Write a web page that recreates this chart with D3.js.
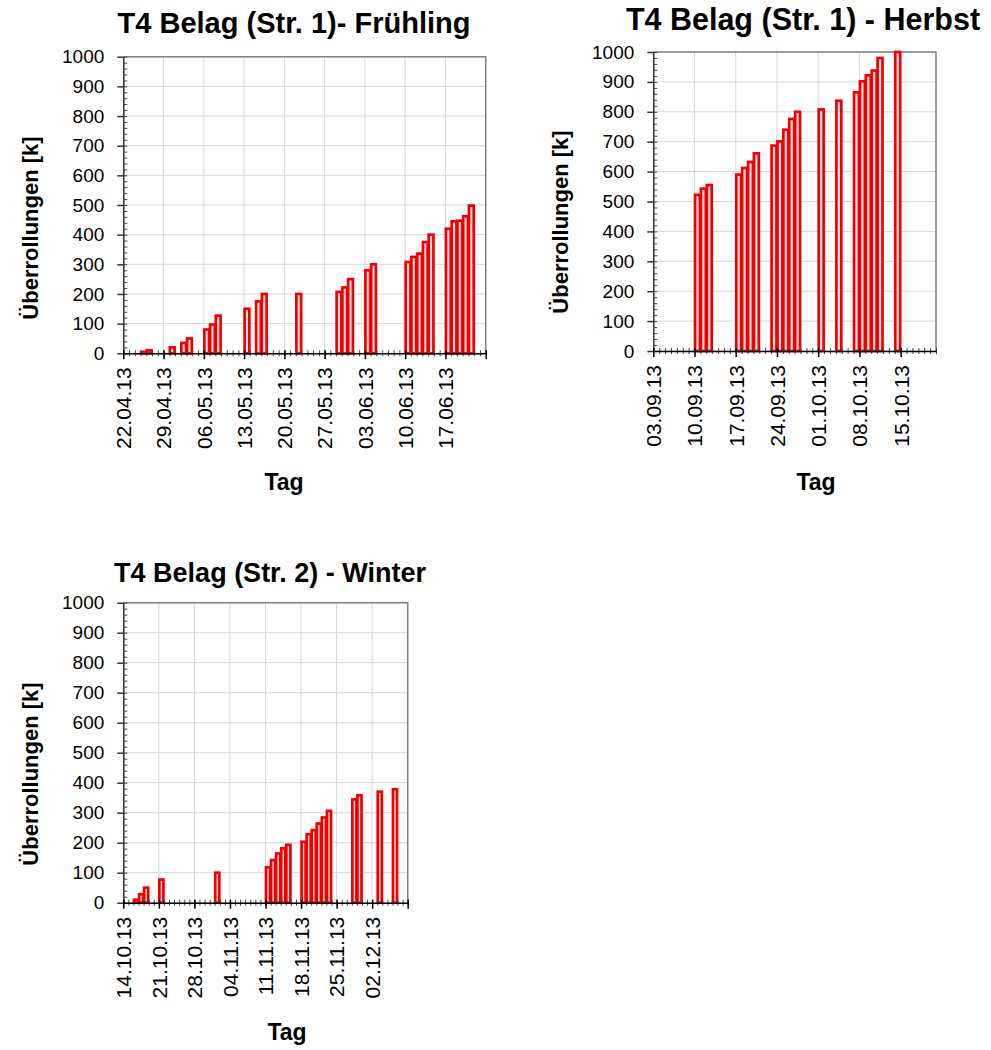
<!DOCTYPE html>
<html>
<head>
<meta charset="utf-8">
<script src="https://cdn.jsdelivr.net/npm/d3@7"></script>
<style>
body { margin: 0; background: #fff; }
svg { display: block; font-family: "Liberation Sans", Arial, sans-serif; }
</style>
</head>
<body>
<div id="chart"></div>
<script>
// data (k = thousands of passes)
var springDays = ["25.04.13","26.04.13","30.04.13","02.05.13","03.05.13","06.05.13","07.05.13","08.05.13",
    "13.05.13","15.05.13","16.05.13","22.05.13","29.05.13","30.05.13","31.05.13","03.06.13","04.06.13",
    "10.06.13","11.06.13","12.06.13","13.06.13","14.06.13","17.06.13","18.06.13","19.06.13","20.06.13","21.06.13"];
var springValues = [5, 10, 20, 35, 50, 80, 97, 127,
    150, 175, 200, 200, 207, 222, 250, 280, 300,
    308, 325, 336, 375, 400, 420, 445, 447, 462, 498];

var autumnDays = ["10.09.13","11.09.13","12.09.13","17.09.13","18.09.13","19.09.13","20.09.13",
    "23.09.13","24.09.13","25.09.13","26.09.13","27.09.13","01.10.13","04.10.13",
    "07.10.13","08.10.13","09.10.13","10.10.13","11.10.13","14.10.13"];
var autumnValues = [522, 543, 555, 590, 612, 632, 661,
    687, 701, 740, 776, 800, 808, 837,
    865, 902, 922, 938, 980, 1000];

var winterDays = ["16.10.13","17.10.13","18.10.13","21.10.13","01.11.13",
    "11.11.13","12.11.13","13.11.13","14.11.13","15.11.13",
    "18.11.13","19.11.13","20.11.13","21.11.13","22.11.13","23.11.13",
    "28.11.13","29.11.13","03.12.13","06.12.13"];
var winterValues = [10, 28, 50, 77, 100,
    118, 142, 164, 181, 193,
    203, 228, 242, 264, 284, 306,
    344, 358, 370, 378];

var axisRanges = [["22.04.13","24.06.13"], ["03.09.13","21.10.13"], ["14.10.13","09.12.13"]];
var titles = ["T4 Belag (Str. 1)- Frühling", "T4 Belag (Str. 1) - Herbst", "T4 Belag (Str. 2) - Winter"];
var yTickValues = d3.range(0, 1001, 100);
var yMinorValues = d3.range(0, 1001, 20);
var yTitle = "Überrollungen [k]";
var xTitle = "Tag";

var parseDay = d3.utcParse("%d.%m.%y");
var fmtDay = d3.utcFormat("%d.%m.%y");

var svg = d3.select("#chart")
    .append("svg")
    .attr("width", 991)
    .attr("height", 1050);

// where each panel sits on the page
var layout = [
    {left: 123.3, right: 485.7, top: 56.7, bottom: 353.3, titleX: 294, titleY: 33, titleSize: 29, yTitleX: 38, yTitleY: 228, tagX: 284, tagY: 490},
    {left: 653.3, right: 936, top: 52, bottom: 351, titleX: 803, titleY: 30, titleSize: 30.5, yTitleX: 568, yTitleY: 222, tagX: 816, tagY: 490},
    {left: 123.3, right: 407.7, top: 602.7, bottom: 902.7, titleX: 270, titleY: 582, titleSize: 27, yTitleX: 38, yTitleY: 774, tagX: 287, tagY: 1040}
];
var series = [[springDays, springValues], [autumnDays, autumnValues], [winterDays, winterValues]];

function drawPanel(i) {
    var p = layout[i];
    var start = parseDay(axisRanges[i][0]), end = parseDay(axisRanges[i][1]);

    var x = d3.scaleUtc().domain([start, end]).range([p.left, p.right]);
    var y = d3.scaleLinear().domain([0, 1000]).range([p.bottom, p.top]);

    var weeks = d3.utcDay.range(start, d3.utcDay.offset(end, 1), 7);
    var days = d3.utcDay.range(start, d3.utcDay.offset(end, 1));

    var g = svg.append("g");

    // grid
    g.selectAll(".hgrid").data(yTickValues).enter().append("line")
        .attr("x1", p.left).attr("x2", p.right)
        .attr("y1", function(d){ return y(d); }).attr("y2", function(d){ return y(d); })
        .attr("stroke", "#d6d6d6").attr("stroke-width", 1);
    g.selectAll(".vgrid").data(weeks).enter().append("line")
        .attr("x1", function(d){ return x(d); }).attr("x2", function(d){ return x(d); })
        .attr("y1", p.top).attr("y2", p.bottom)
        .attr("stroke", "#d6d6d6").attr("stroke-width", 1);

    // top / right frame
    g.append("path")
        .attr("d", "M" + p.left + "," + p.top + "H" + p.right + "V" + p.bottom)
        .attr("fill", "none").attr("stroke", "#808080").attr("stroke-width", 1.5);

    // bars
    var bars = series[i][0].map(function(d, k){ return {day: parseDay(d), value: series[i][1][k]}; });
    g.selectAll(".bar").data(bars).enter().append("rect")
        .attr("x", function(d){ return x(d.day) + 0.5; })
        .attr("width", function(d){ return x(d3.utcDay.offset(d.day, 1)) - x(d.day) - 1; })
        .attr("y", function(d){ return y(Math.min(d.value, 1000)); })
        .attr("height", function(d){ return y(0) - y(Math.min(d.value, 1000)); })
        .attr("fill", "#ffe0e0")
        .attr("stroke", "#f00000")
        .attr("stroke-width", 2.7);

    // y axis
    var yAxis = g.append("g")
        .attr("transform", "translate(" + p.left + ",0)")
        .call(d3.axisLeft(y).tickValues(yTickValues).tickFormat(d3.format("d"))
            .tickSize(6).tickSizeOuter(0).tickPadding(13));
    yAxis.select(".domain").attr("stroke", "#333").attr("stroke-width", 1.5);
    yAxis.selectAll(".tick line").attr("stroke", "#333").attr("stroke-width", 1.5);
    yAxis.selectAll("text").attr("font-size", 19).attr("fill", "#000")
        .attr("font-family", "Liberation Sans, Arial, sans-serif");
    g.append("g")
        .attr("transform", "translate(" + p.left + ",0)")
        .call(d3.axisLeft(y).tickValues(yMinorValues).tickSize(-4).tickSizeOuter(0).tickFormat(""))
        .call(function(a){ a.select(".domain").remove(); a.selectAll("line").attr("stroke", "#444"); });

    // x axis: daily minor ticks, weekly labels
    g.append("g")
        .attr("transform", "translate(0," + p.bottom + ")")
        .call(d3.axisBottom(x).tickValues(days).tickSizeOuter(0).tickFormat(""))
        .call(function(a){
            a.select(".domain").remove();
            a.selectAll("line").attr("y1", -3).attr("y2", 3).attr("stroke", "#444");
        });
    var xAxis = g.append("g")
        .attr("transform", "translate(0," + p.bottom + ")")
        .call(d3.axisBottom(x).tickValues(weeks).tickSize(6).tickSizeOuter(0).tickFormat(fmtDay));
    xAxis.select(".domain").attr("stroke", "#000").attr("stroke-width", 1.5);
    xAxis.selectAll(".tick line").attr("y1", -3).attr("stroke", "#000").attr("stroke-width", 1.5);
    // the last week boundary closes the axis and carries no label
    xAxis.selectAll(".tick text")
        .text(function(d){ return +d === +end ? "" : fmtDay(d); })
        .attr("transform", "rotate(-90)")
        .attr("text-anchor", "end")
        .attr("x", -14).attr("y", 0).attr("dy", "0.35em")
        .attr("font-size", 21).attr("fill", "#000")
        .attr("font-family", "Liberation Sans, Arial, sans-serif");

    // titles
    g.append("text")
        .attr("x", p.titleX).attr("y", p.titleY)
        .attr("text-anchor", "middle")
        .attr("font-size", p.titleSize).attr("font-weight", "bold")
        .text(titles[i]);
    g.append("text")
        .attr("transform", "translate(" + p.yTitleX + "," + p.yTitleY + ") rotate(-90)")
        .attr("text-anchor", "middle")
        .attr("font-size", 22).attr("font-weight", "bold")
        .text(yTitle);
    g.append("text")
        .attr("x", p.tagX).attr("y", p.tagY)
        .attr("text-anchor", "middle")
        .attr("font-size", 23).attr("font-weight", "bold")
        .text(xTitle);
}

for (i = 0; i < layout.length; i++) {
    drawPanel(i);
}
</script>
</body>
</html>
